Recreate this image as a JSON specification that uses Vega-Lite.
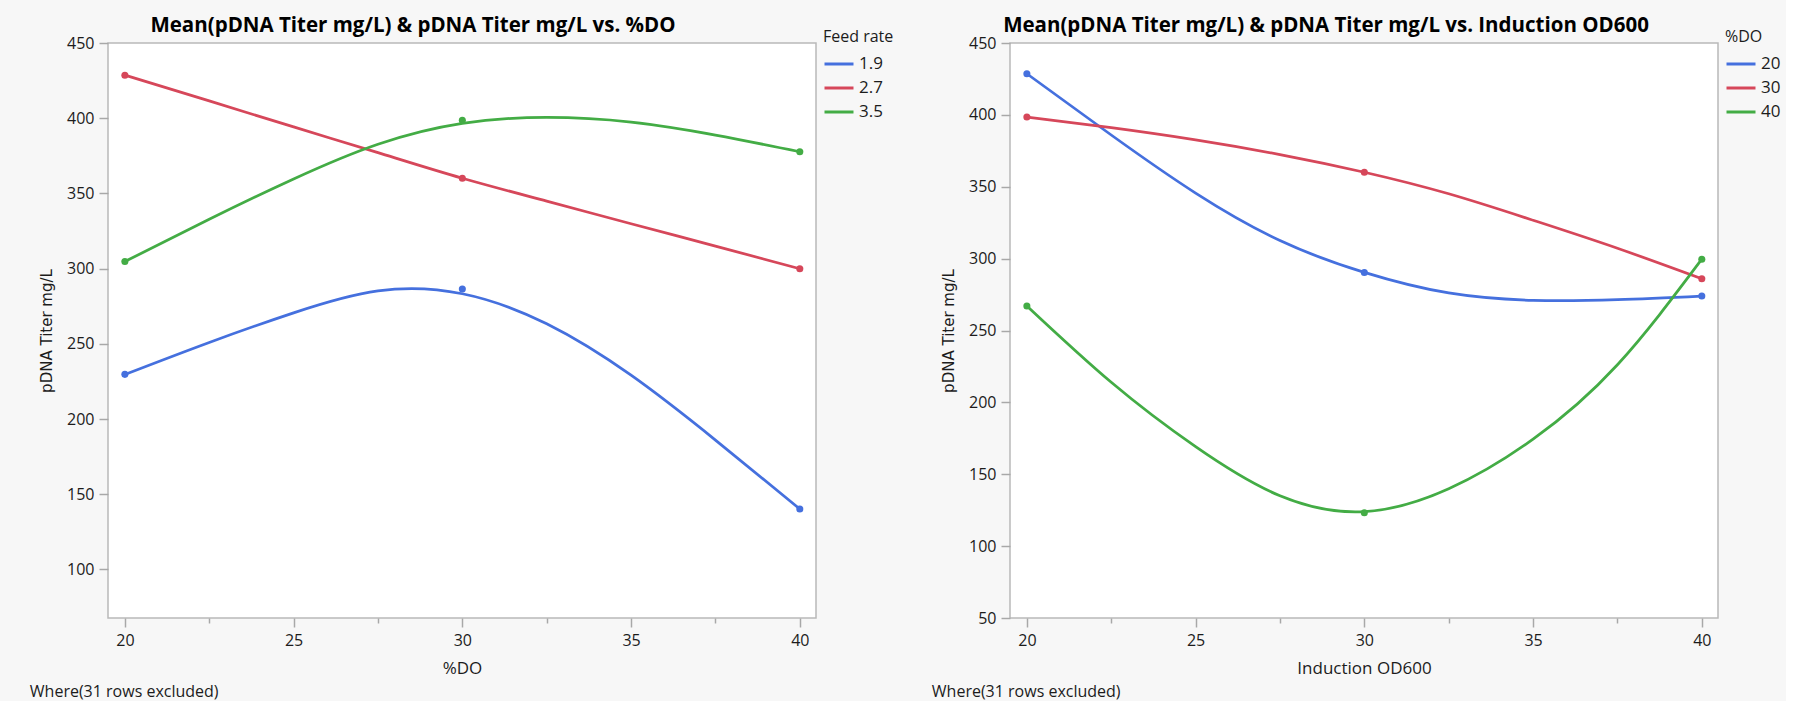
{
  "$schema": "https://vega.github.io/schema/vega-lite/v6.json",
  "background": "#f7f7f7",
  "padding": {"left": 29, "top": 14, "right": 5, "bottom": 0},
  "config": {
    "font": "Open Sans",
    "view": {"fill": "#ffffff", "stroke": "#b9b9b9", "strokeWidth": 1.5},
    "axis": {
      "domain": false, "grid": false,
      "tickColor": "#a8a8a8", "tickWidth": 1.5,
      "labelFont": "Open Sans", "labelFontSize": 16, "labelColor": "#1c1c1c",
      "titleFont": "Open Sans", "titleFontWeight": "normal", "titleColor": "#1c1c1c"
    },
    "legend": {
      "orient": "none", "legendX": 715, "legendY": -14,
      "titleFont": "Open Sans", "titleFontSize": 16, "titleFontWeight": "normal", "titleColor": "#1c1c1c", "titlePadding": 3,
      "labelFont": "Open Sans", "labelFontSize": 17, "labelColor": "#1c1c1c",
      "symbolType": "stroke", "symbolSize": 841, "symbolStrokeWidth": 3,
      "rowPadding": -10.5, "labelOffset": 4
    }
  },
  "datasets": {
    "do_fit": [
      {"DO": 20, "FeedRate": "1.9", "Titer": 229.6},
      {"DO": 22.5, "FeedRate": "1.9", "Titer": 250.9},
      {"DO": 25, "FeedRate": "1.9", "Titer": 270.6},
      {"DO": 27.5, "FeedRate": "1.9", "Titer": 285.2},
      {"DO": 30, "FeedRate": "1.9", "Titer": 283.3},
      {"DO": 32.5, "FeedRate": "1.9", "Titer": 263.3},
      {"DO": 35, "FeedRate": "1.9", "Titer": 229.1},
      {"DO": 37.5, "FeedRate": "1.9", "Titer": 186.0},
      {"DO": 40, "FeedRate": "1.9", "Titer": 140.2},
      {"DO": 20, "FeedRate": "2.7", "Titer": 428.6},
      {"DO": 22.5, "FeedRate": "2.7", "Titer": 411.5},
      {"DO": 25, "FeedRate": "2.7", "Titer": 394.2},
      {"DO": 27.5, "FeedRate": "2.7", "Titer": 377.1},
      {"DO": 30, "FeedRate": "2.7", "Titer": 360.1},
      {"DO": 32.5, "FeedRate": "2.7", "Titer": 344.9},
      {"DO": 35, "FeedRate": "2.7", "Titer": 329.8},
      {"DO": 37.5, "FeedRate": "2.7", "Titer": 315.0},
      {"DO": 40, "FeedRate": "2.7", "Titer": 299.9},
      {"DO": 20, "FeedRate": "3.5", "Titer": 304.7},
      {"DO": 22.5, "FeedRate": "3.5", "Titer": 332.8},
      {"DO": 25, "FeedRate": "3.5", "Titer": 359.6},
      {"DO": 27.5, "FeedRate": "3.5", "Titer": 382.7},
      {"DO": 30, "FeedRate": "3.5", "Titer": 396.6},
      {"DO": 32.5, "FeedRate": "3.5", "Titer": 400.5},
      {"DO": 35, "FeedRate": "3.5", "Titer": 397.4},
      {"DO": 37.5, "FeedRate": "3.5", "Titer": 388.8},
      {"DO": 40, "FeedRate": "3.5", "Titer": 377.7}
    ],
    "do_means": [
      {"DO": 20, "FeedRate": "1.9", "Titer": 229.7},
      {"DO": 30, "FeedRate": "1.9", "Titer": 286.4},
      {"DO": 40, "FeedRate": "1.9", "Titer": 140.2},
      {"DO": 20, "FeedRate": "2.7", "Titer": 428.6},
      {"DO": 30, "FeedRate": "2.7", "Titer": 360.1},
      {"DO": 40, "FeedRate": "2.7", "Titer": 299.9},
      {"DO": 20, "FeedRate": "3.5", "Titer": 304.7},
      {"DO": 30, "FeedRate": "3.5", "Titer": 398.6},
      {"DO": 40, "FeedRate": "3.5", "Titer": 377.7}
    ],
    "od_fit": [
      {"OD600": 20, "DO": "20", "Titer": 428.6},
      {"OD600": 22.5, "DO": "20", "Titer": 386.0},
      {"OD600": 25, "DO": "20", "Titer": 345.6},
      {"OD600": 27.5, "DO": "20", "Titer": 312.6},
      {"OD600": 30, "DO": "20", "Titer": 290.4},
      {"OD600": 32.5, "DO": "20", "Titer": 276.1},
      {"OD600": 35, "DO": "20", "Titer": 271.0},
      {"OD600": 37.5, "DO": "20", "Titer": 271.5},
      {"OD600": 40, "DO": "20", "Titer": 274.0},
      {"OD600": 20, "DO": "30", "Titer": 398.5},
      {"OD600": 22.5, "DO": "30", "Titer": 391.1},
      {"OD600": 25, "DO": "30", "Titer": 382.6},
      {"OD600": 27.5, "DO": "30", "Titer": 372.4},
      {"OD600": 30, "DO": "30", "Titer": 360.1},
      {"OD600": 32.5, "DO": "30", "Titer": 345.1},
      {"OD600": 35, "DO": "30", "Titer": 326.7},
      {"OD600": 37.5, "DO": "30", "Titer": 307.2},
      {"OD600": 40, "DO": "30", "Titer": 286.0},
      {"OD600": 20, "DO": "40", "Titer": 267.1},
      {"OD600": 22.5, "DO": "40", "Titer": 214.0},
      {"OD600": 25, "DO": "40", "Titer": 169.2},
      {"OD600": 27.5, "DO": "40", "Titer": 135.0},
      {"OD600": 30, "DO": "40", "Titer": 124.0},
      {"OD600": 32.5, "DO": "40", "Titer": 139.9},
      {"OD600": 35, "DO": "40", "Titer": 174.4},
      {"OD600": 37.5, "DO": "40", "Titer": 226.2},
      {"OD600": 40, "DO": "40", "Titer": 299.6}
    ],
    "od_means": [
      {"OD600": 20, "DO": "20", "Titer": 428.6},
      {"OD600": 30, "DO": "20", "Titer": 290.4},
      {"OD600": 40, "DO": "20", "Titer": 274.0},
      {"OD600": 20, "DO": "30", "Titer": 398.5},
      {"OD600": 30, "DO": "30", "Titer": 360.1},
      {"OD600": 40, "DO": "30", "Titer": 286.0},
      {"OD600": 20, "DO": "40", "Titer": 267.1},
      {"OD600": 30, "DO": "40", "Titer": 123.2},
      {"OD600": 40, "DO": "40", "Titer": 299.6}
    ]
  },
  "spacing": 37,
  "resolve": {"scale": {"color": "independent", "x": "independent", "y": "independent"}},
  "hconcat": [
    {
      "title": {"text": "Where(31 rows excluded)", "orient": "bottom", "anchor": "start", "font": "Open Sans", "fontSize": 16, "fontWeight": "normal", "color": "#1c1c1c", "dx": -9, "offset": 7},
      "vconcat": [
        {
          "width": 708, "height": 575,
          "title": {"text": "Mean(pDNA Titer mg/L) & pDNA Titer mg/L vs. %DO", "font": "Open Sans", "fontSize": 20.5, "fontWeight": "bold", "color": "#000000", "anchor": "middle", "dx": -49, "offset": -1},
          "layer": [
            {
              "data": {"name": "do_fit"},
              "mark": {"type": "line", "interpolate": "natural", "strokeWidth": 2.75},
              "encoding": {
                "x": {"field": "DO", "type": "quantitative", "scale": {"domain": [19.5, 40.48], "nice": false, "zero": false},
                  "axis": {"title": "%DO", "titleFontSize": 17, "values": [20, 22.5, 25, 27.5, 30, 32.5, 35, 37.5, 40],
                    "labelExpr": "datum.value % 5 === 0 ? format(datum.value, 'd') : ''",
                    "tickSize": {"condition": {"test": "datum.value % 5 !== 0", "value": 5}, "value": 9},
                    "labelPadding": 5, "titlePadding": 12.5}},
                "y": {"field": "Titer", "type": "quantitative", "scale": {"domain": [67.7, 450], "nice": false, "zero": false},
                  "axis": {"title": "pDNA Titer mg/L", "titleFont": "DejaVu Sans", "titleFontSize": 15, "values": [100, 150, 200, 250, 300, 350, 400, 450], "tickSize": 9, "labelPadding": 5, "titlePadding": 12}},
                "color": {"field": "FeedRate", "type": "nominal",
                  "scale": {"domain": ["1.9", "2.7", "3.5"], "range": ["#4570de", "#d6475a", "#43ac45"]},
                  "legend": {"title": "Feed rate"}}
              }
            },
            {
              "data": {"name": "do_means"},
              "mark": {"type": "point", "filled": true, "size": 50, "opacity": 1},
              "encoding": {
                "x": {"field": "DO", "type": "quantitative"},
                "y": {"field": "Titer", "type": "quantitative"},
                "color": {"field": "FeedRate", "type": "nominal", "legend": null}
              }
            }
          ]
        }
      ]
    },
    {
      "title": {"text": "Where(31 rows excluded)", "orient": "bottom", "anchor": "start", "font": "Open Sans", "fontSize": 16, "fontWeight": "normal", "color": "#1c1c1c", "dx": -9, "offset": 7},
      "vconcat": [
        {
          "width": 708, "height": 575,
          "title": {"text": "Mean(pDNA Titer mg/L) & pDNA Titer mg/L vs. Induction OD600", "font": "Open Sans", "fontSize": 20.5, "fontWeight": "bold", "color": "#000000", "anchor": "middle", "dx": -38, "offset": -1},
          "layer": [
            {
              "data": {"name": "od_fit"},
              "mark": {"type": "line", "interpolate": "natural", "strokeWidth": 2.75},
              "encoding": {
                "x": {"field": "OD600", "type": "quantitative", "scale": {"domain": [19.5, 40.48], "nice": false, "zero": false},
                  "axis": {"title": "Induction OD600", "titleFontSize": 17, "values": [20, 22.5, 25, 27.5, 30, 32.5, 35, 37.5, 40],
                    "labelExpr": "datum.value % 5 === 0 ? format(datum.value, 'd') : ''",
                    "tickSize": {"condition": {"test": "datum.value % 5 !== 0", "value": 5}, "value": 9},
                    "labelPadding": 5, "titlePadding": 12.5}},
                "y": {"field": "Titer", "type": "quantitative", "scale": {"domain": [50, 450], "nice": false, "zero": false},
                  "axis": {"title": "pDNA Titer mg/L", "titleFont": "DejaVu Sans", "titleFontSize": 15, "values": [50, 100, 150, 200, 250, 300, 350, 400, 450], "tickSize": 9, "labelPadding": 5, "titlePadding": 12}},
                "color": {"field": "DO", "type": "nominal",
                  "scale": {"domain": ["20", "30", "40"], "range": ["#4570de", "#d6475a", "#43ac45"]},
                  "legend": {"title": "%DO"}}
              }
            },
            {
              "data": {"name": "od_means"},
              "mark": {"type": "point", "filled": true, "size": 50, "opacity": 1},
              "encoding": {
                "x": {"field": "OD600", "type": "quantitative"},
                "y": {"field": "Titer", "type": "quantitative"},
                "color": {"field": "DO", "type": "nominal", "legend": null}
              }
            }
          ]
        }
      ]
    }
  ]
}
